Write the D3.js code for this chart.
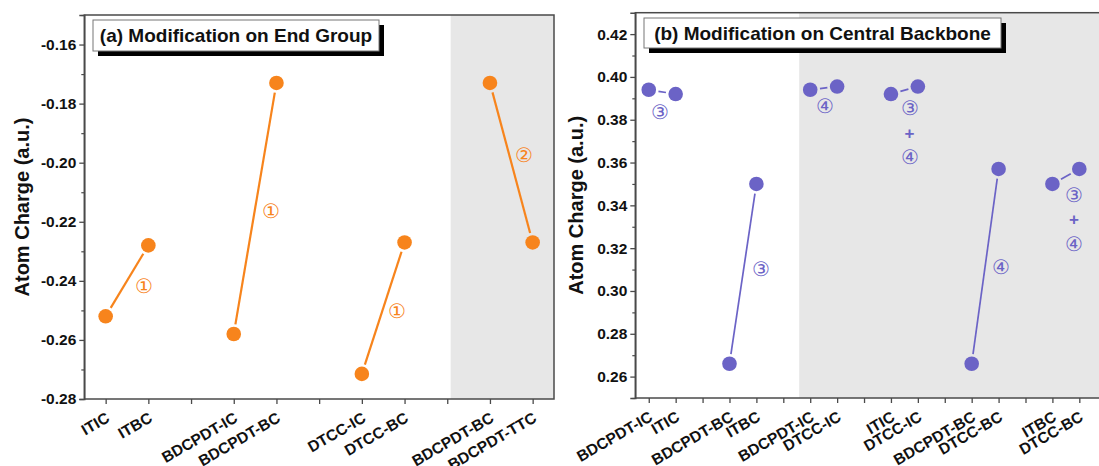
<!DOCTYPE html>
<html><head><meta charset="utf-8">
<script src="https://cdn.jsdelivr.net/npm/d3@7"></script>
<style>
html,body{margin:0;padding:0;background:#fff;}
svg{display:block;}
text{font-family:Arial,"Liberation Sans",sans-serif;}
</style></head>
<body>
<svg id="chart" width="1099" height="466"></svg>
<script>
// ---------- DATA ----------
// Panel (a): Modification on End Group (empty strings = spacer slots)
const categoriesA = ["ITIC","ITBC","","BDCPDT-IC","BDCPDT-BC","","DTCC-IC","DTCC-BC","","BDCPDT-BC","BDCPDT-TTC"];
const valuesA     = [-0.252,-0.228,null,-0.258,-0.173,null,-0.2715,-0.227,null,-0.173,-0.227];
const yTicksA     = [-0.28,-0.26,-0.24,-0.22,-0.20,-0.18,-0.16];
const yMinorA     = [-0.27,-0.25,-0.23,-0.21,-0.19,-0.17,-0.15];
const annotA_text = ["①","①","①","②"];
const annotA_slot = [1.9,4.88,7.82,10.8];
const annotA_val  = [-0.2416,-0.2164,-0.2503,-0.1975];

// Panel (b): Modification on Central Backbone
const categoriesB = ["BDCPDT-IC","ITIC","","BDCPDT-BC","ITBC","","BDCPDT-IC","DTCC-IC","","ITIC","DTCC-IC","","BDCPDT-BC","DTCC-BC","","ITBC","DTCC-BC"];
const valuesB     = [0.394,0.392,null,0.266,0.350,null,0.394,0.3955,null,0.392,0.3955,null,0.266,0.357,null,0.350,0.357];
const yTicksB     = [0.26,0.28,0.30,0.32,0.34,0.36,0.38,0.40,0.42];
const yMinorB     = [0.25,0.27,0.29,0.31,0.33,0.35,0.37,0.39,0.41];
const annotB_text = ["③","③","④","③","+","④","④","③","+","④"];
const annotB_slot = [1.4,5.18,7.55,10.69,10.69,10.69,14.1,16.8,16.8,16.8];
const annotB_val  = [0.3835,0.3104,0.3864,0.3853,0.3739,0.3627,0.3112,0.3447,0.3335,0.3221];

const titleA = "(a) Modification on End Group";
const titleB = "(b) Modification on Central Backbone";
const yTitle = "Atom Charge (a.u.)";

// ---------- STYLE ----------
const ORANGE = "#f7841c";
const PURPLE = "#6b63c6";
const GRAY = "#e7e7e7";
const AXIS = "#4a4a4a";

const svg = d3.select("#chart");

function drawPanel(cfg){
  const {cats, vals, x, y, yTicks, yMinor, grayFrom, color, r, lw, title, box, annText, annSlot, annVal, annSize, yTitleX} = cfg;
  const g = svg.append("g");
  const [x0,x1] = x.range();
  const [yb,yt] = y.range();
  // gray shading
  g.append("rect").attr("x", x(grayFrom)).attr("y", yt)
    .attr("width", x1 - x(grayFrom)).attr("height", yb - yt).attr("fill", GRAY);
  // frame
  g.append("rect").attr("x", x0).attr("y", yt).attr("width", x1-x0).attr("height", yb-yt)
    .attr("fill","none").attr("stroke",AXIS).attr("stroke-width",1.5);

  // y axis major
  const ya = g.append("g").attr("transform",`translate(${x0},0)`)
    .call(d3.axisLeft(y).tickValues(yTicks).tickSize(5).tickPadding(3).tickFormat(d3.format(".2f")));
  ya.select(".domain").attr("stroke",AXIS).attr("stroke-width",1.5);
  ya.selectAll(".tick line").attr("stroke",AXIS).attr("stroke-width",1.3);
  ya.selectAll(".tick text").attr("font-size",15.5).attr("font-weight","bold").attr("fill","#111")
    .text(d => d3.format(".2f")(d).replace("−","-"));
  // y axis minor
  const ym = g.append("g").attr("transform",`translate(${x0},0)`)
    .call(d3.axisLeft(y).tickValues(yMinor).tickSize(3).tickFormat(""));
  ym.select(".domain").remove();
  ym.selectAll(".tick line").attr("stroke",AXIS).attr("stroke-width",1.2);

  // x axis ticks
  const slots = d3.range(1, cats.length+1);
  const xa = g.append("g").attr("transform",`translate(0,${yb})`)
    .call(d3.axisBottom(x).tickValues(slots).tickSize(5).tickFormat(""));
  xa.select(".domain").remove();
  xa.selectAll(".tick line").attr("stroke",AXIS).attr("stroke-width",1.3);
  // x labels rotated
  g.append("g").selectAll("text").data(cats.map((c,i)=>({c, s:i+1})).filter(d=>d.c!==""))
    .join("text")
    .attr("transform", d => `translate(${x(d.s)+5},${yb+22}) rotate(-30)`)
    .attr("text-anchor","end").attr("font-size",15.5).attr("font-weight","bold").attr("fill","#111")
    .text(d=>d.c);

  // y title
  g.append("text").attr("transform",`translate(${yTitleX},${(yb+yt)/2}) rotate(-90)`)
    .attr("text-anchor","middle").attr("dy","0.35em")
    .attr("font-size",20).attr("font-weight","bold").attr("fill","#111").text(yTitle);

  // connecting lines (pairs of consecutive non-null values)
  const pts = vals.map((v,i)=> v===null?null:{s:i+1, v});
  const pairs = [];
  for(let i=0;i<pts.length-1;i++){ if(pts[i] && pts[i+1]) pairs.push([pts[i],pts[i+1]]); }
  const gap = r + 2.5;
  g.append("g").selectAll("line").data(pairs).join("line")
    .each(function(p){
      const ax=x(p[0].s), ay=y(p[0].v), bx=x(p[1].s), by=y(p[1].v);
      const dx=bx-ax, dy=by-ay, L=Math.hypot(dx,dy), ux=dx/L, uy=dy/L;
      d3.select(this).attr("x1",ax+ux*gap).attr("y1",ay+uy*gap)
        .attr("x2",bx-ux*gap).attr("y2",by-uy*gap);
    })
    .attr("stroke",color).attr("stroke-width",lw).attr("stroke-linecap","butt");

  // markers
  g.append("g").selectAll("circle").data(pts.filter(Boolean)).join("circle")
    .attr("cx",d=>x(d.s)).attr("cy",d=>y(d.v)).attr("r",r).attr("fill",color);

  // annotations
  g.append("g").selectAll("text").data(annText.map((t,i)=>({t, s:annSlot[i], v:annVal[i]}))).join("text")
    .attr("x",d=>x(d.s)).attr("y",d=>y(d.v)).attr("dy","0.35em").attr("text-anchor","middle")
    .attr("font-family", d => d.t==="+" ? "Arial, sans-serif" : "'Noto Sans CJK SC', 'DejaVu Sans', sans-serif")
    .attr("font-weight", d => d.t==="+" ? "bold" : "normal")
    .attr("font-size", d => d.t==="+" ? 17 : annSize)
    .attr("fill",color).text(d=>d.t);

  // title box with shadow
  g.append("rect").attr("x",box[0]+5).attr("y",box[1]+5).attr("width",box[2]).attr("height",box[3]).attr("fill","#000");
  g.append("rect").attr("x",box[0]).attr("y",box[1]).attr("width",box[2]).attr("height",box[3])
    .attr("fill","#fff").attr("stroke","#777").attr("stroke-width",1);
  g.append("text").attr("x",box[0]+box[2]/2).attr("y",box[1]+box[3]/2).attr("dy","0.36em")
    .attr("text-anchor","middle").attr("font-size",19).attr("font-weight","bold").attr("fill","#111").text(title);
}

drawPanel({
  cats: categoriesA, vals: valuesA,
  x: d3.scaleLinear().domain([0.5, 11.5]).range([84.3, 554]),
  y: d3.scaleLinear().domain([-0.28, -0.15]).range([399, 15]),
  yTicks: yTicksA, yMinor: yMinorA, grayFrom: 9.08, color: ORANGE, r: 7.3, lw: 2.2,
  title: titleA, box: [93, 20, 286, 31],
  annText: annotA_text, annSlot: annotA_slot, annVal: annotA_val, annSize: 20,
  yTitleX: 22
});

drawPanel({
  cats: categoriesB, vals: valuesB,
  x: d3.scaleLinear().domain([0.5, 18]).range([635.3, 635.3 + 17.5*26.91]),
  y: d3.scaleLinear().domain([0.25, 0.43]).range([398, 12.7]),
  yTicks: yTicksB, yMinor: yMinorB, grayFrom: 6.59, color: PURPLE, r: 7.3, lw: 1.7,
  title: titleB, box: [644, 18, 357, 30],
  annText: annotB_text, annSlot: annotB_slot, annVal: annotB_val, annSize: 20,
  yTitleX: 576
});
</script>
</body></html>
